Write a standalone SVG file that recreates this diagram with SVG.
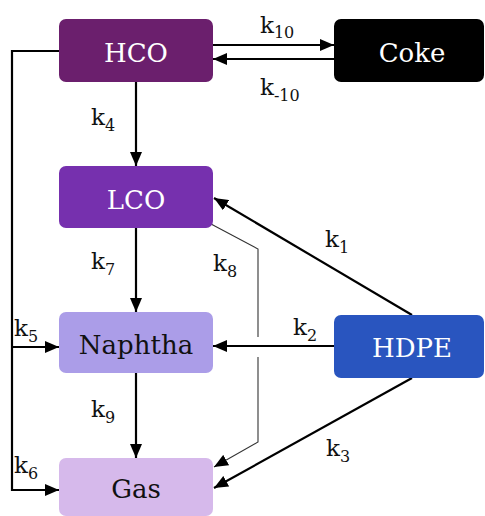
<svg xmlns="http://www.w3.org/2000/svg" width="485" height="516" viewBox="0 0 485 516">
  <style>
    text { font-family: 'DejaVu Serif', 'Liberation Serif', 'Noto Serif', serif; }
    .box-label { font-size: 26px; text-anchor: middle; }
    .light { fill: #ffffff; }
    .dark { fill: #111111; }
    .k { font-size: 23px; fill: #111111; }
    .sub { font-size: 16px; }
    .edge { fill: none; stroke: #000000; stroke-width: 2.2; }
    .thin { fill: none; stroke: #333333; stroke-width: 1.1; }
  </style>
  <defs>
    <marker id="head" viewBox="0 0 14 12" refX="14" refY="6" markerWidth="14" markerHeight="12" markerUnits="userSpaceOnUse" orient="auto">
      <path d="M0,0 L14,6 L0,12 z" fill="#000000"/>
    </marker>
  </defs>

  <rect width="485" height="516" fill="#ffffff"/>

  <!-- connectors -->
  <g id="connectors">
    <!-- HCO <-> Coke -->
    <line class="edge" x1="213" y1="45" x2="334" y2="45" marker-end="url(#head)"/>
    <line class="edge" x1="334" y1="59" x2="213" y2="59" marker-end="url(#head)"/>
    <!-- HCO -> LCO -->
    <line class="edge" x1="136" y1="82" x2="136" y2="166" marker-end="url(#head)"/>
    <!-- LCO -> Naphtha -->
    <line class="edge" x1="136" y1="228" x2="136" y2="312" marker-end="url(#head)"/>
    <!-- Naphtha -> Gas -->
    <line class="edge" x1="136" y1="373" x2="136" y2="458" marker-end="url(#head)"/>
    <!-- HCO bypass to Naphtha and Gas -->
    <polyline class="edge" points="59,51 12,51 12,490 59,490" marker-end="url(#head)"/>
    <line class="edge" x1="12" y1="347" x2="59" y2="347" marker-end="url(#head)"/>
    <!-- LCO -> Gas (k8), broken where the k2 line crosses -->
    <polyline class="thin" points="211,224 258,249 258,337"/>
    <polyline class="thin" points="258,357 258,442 214,467" marker-end="url(#head)"/>
    <!-- HDPE -> LCO / Naphtha / Gas -->
    <line class="edge" x1="412" y1="315" x2="214" y2="198" marker-end="url(#head)"/>
    <line class="edge" x1="334" y1="346" x2="213" y2="346" marker-end="url(#head)"/>
    <line class="edge" x1="412" y1="378" x2="214" y2="488" marker-end="url(#head)"/>
  </g>

  <!-- rate constants -->
  <g id="rates">
    <text class="k" x="260" y="33">k<tspan class="sub" dy="5">10</tspan></text>
    <text class="k" x="260" y="95">k<tspan class="sub" dy="6">-10</tspan></text>
    <text class="k" x="91" y="125">k<tspan class="sub" dy="6">4</tspan></text>
    <text class="k" x="91" y="269">k<tspan class="sub" dy="6">7</tspan></text>
    <text class="k" x="213" y="271">k<tspan class="sub" dy="6">8</tspan></text>
    <text class="k" x="325" y="247">k<tspan class="sub" dy="6">1</tspan></text>
    <text class="k" x="14" y="336">k<tspan class="sub" dy="6">5</tspan></text>
    <text class="k" x="293" y="335">k<tspan class="sub" dy="6">2</tspan></text>
    <text class="k" x="91" y="417">k<tspan class="sub" dy="6">9</tspan></text>
    <text class="k" x="14" y="473">k<tspan class="sub" dy="6">6</tspan></text>
    <text class="k" x="326" y="456">k<tspan class="sub" dy="6">3</tspan></text>
  </g>

  <!-- nodes -->
  <g id="HCO">
    <rect x="59" y="19" width="154" height="63" rx="7" fill="#6b1f6d"/>
    <text class="box-label light" x="136" y="62">HCO</text>
  </g>
  <g id="Coke">
    <rect x="334" y="19" width="150" height="63" rx="7" fill="#000000"/>
    <text class="box-label light" x="412" y="62">Coke</text>
  </g>
  <g id="LCO">
    <rect x="59" y="166" width="154" height="62" rx="7" fill="#7630ae"/>
    <text class="box-label light" x="136" y="209">LCO</text>
  </g>
  <g id="Naphtha">
    <rect x="59" y="312" width="154" height="61" rx="7" fill="#ab9de8"/>
    <text class="box-label dark" x="136" y="354">Naphtha</text>
  </g>
  <g id="HDPE">
    <rect x="334" y="315" width="150" height="63" rx="7" fill="#2955bf"/>
    <text class="box-label light" x="412" y="357">HDPE</text>
  </g>
  <g id="Gas">
    <rect x="59" y="458" width="154" height="58" rx="7" fill="#d6b9eb"/>
    <text class="box-label dark" x="136" y="498">Gas</text>
  </g>
</svg>
